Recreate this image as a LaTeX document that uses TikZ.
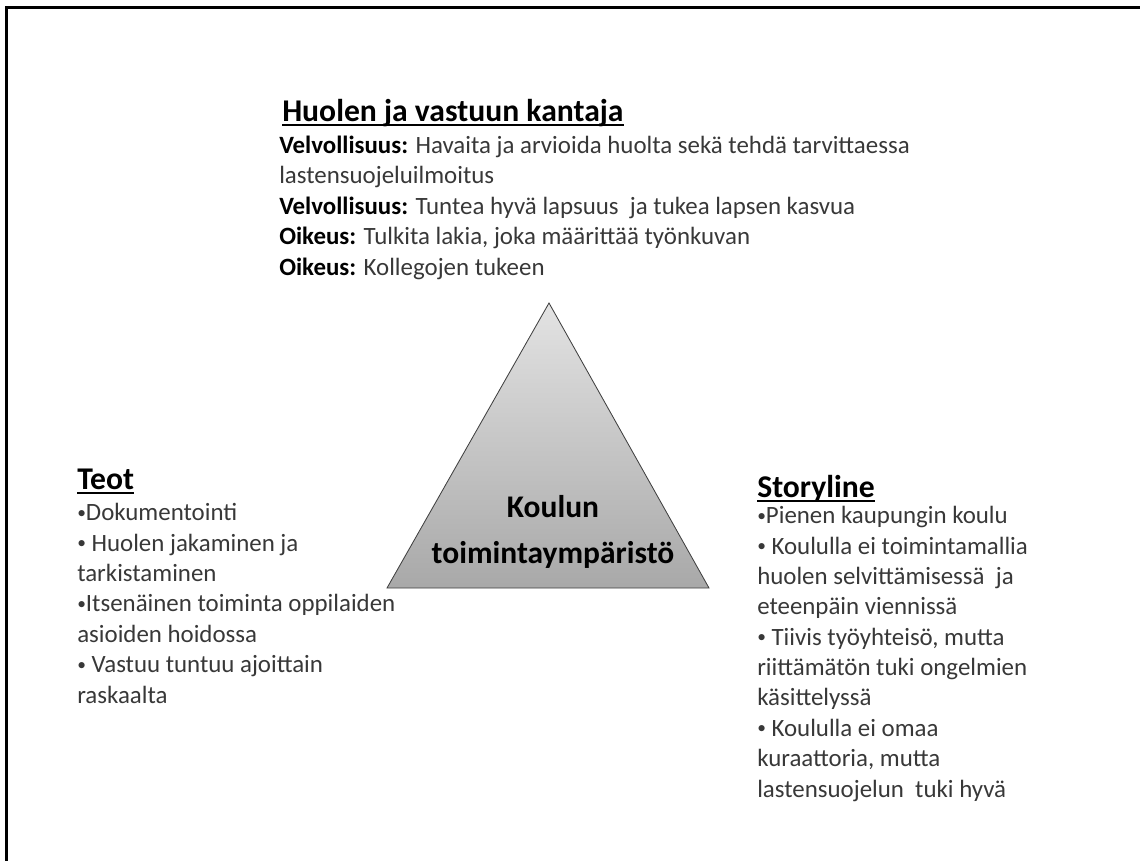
\documentclass[tikz,border=0pt]{standalone}
\usepackage{fontspec}
\setmainfont{Carlito}
\usepackage{xcolor}
\usetikzlibrary{positioning}

\newcommand{\kohta}[1]{{\color{black}\bfseries #1}}
\newcommand{\pallo}{\raisebox{.1em}{\scalebox{.7}{•}}}

\tikzset{
  otsikko/.style={anchor=base west, inner sep=0pt, font=\fontsize{22.5}{26}\selectfont\bfseries},
  leipa/.style={anchor=base west, inner sep=0pt, align=left, text=black!78,
    font=\fontsize{17.7}{21.6}\selectfont},
  keski/.style={inner sep=0pt, align=center, font=\fontsize{22.4}{32.7}\selectfont\bfseries},
  alleviivaus/.style={line width=1.3pt},
}

\begin{document}
\begin{tikzpicture}[x=0.025cm, y=-0.025cm]
  \useasboundingbox (0,0) rectangle (1140,861);

  % Kehys
  \draw[line width=2.2pt] (6.5,861) -- (6.5,7.5) -- (1140,7.5);

  % Kolmio
  \coordinate (karki) at (549,303);
  \coordinate (oikea) at (709,588);
  \coordinate (vasen) at (387,588);
  \shade[top color=gray!22, bottom color=gray!68, draw=black!75, line width=0.6pt]
    (karki) -- (oikea) -- (vasen) -- cycle;
  \node[keski, anchor=base] (ymparisto) at (553,563) {Koulun\\toimintaympäristö};

  % Ylhaalla
  \node[otsikko] (huoli) at (282,121) {Huolen ja vastuun kantaja};
  \draw[alleviivaus] ([yshift=-3pt]huoli.base west) -- ([yshift=-3pt]huoli.base east);
  \node[leipa] (huoliteksti) at (279,275) {\kohta{Velvollisuus:} Havaita ja arvioida huolta sekä tehdä tarvittaessa\\
    lastensuojeluilmoitus\\
    \kohta{Velvollisuus:} Tuntea hyvä lapsuus\ \ ja tukea lapsen kasvua\\
    \kohta{Oikeus:} Tulkita lakia, joka määrittää työnkuvan\\
    \kohta{Oikeus:} Kollegojen tukeen};

  % Vasen
  \node[otsikko] (teot) at (77,489) {Teot};
  \draw[alleviivaus] ([yshift=-3pt]teot.base west) -- ([yshift=-3pt]teot.base east);
  \node[leipa] (teotteksti) at (77,703) {\pallo Dokumentointi\\
    \pallo\ Huolen jakaminen ja\\
    tarkistaminen\\
    \pallo Itsenäinen toiminta oppilaiden\\
    asioiden hoidossa\\
    \pallo\ Vastuu tuntuu ajoittain\\
    raskaalta};

  % Oikea
  \node[otsikko] (story) at (757,497) {Storyline};
  \draw[alleviivaus] ([yshift=-3pt]story.base west) -- ([yshift=-3pt]story.base east);
  \node[leipa] (storyteksti) at (757,797) {\pallo Pienen kaupungin koulu\\
    \pallo\ Koululla ei toimintamallia\\
    huolen selvittämisessä\ \ ja\\
    eteenpäin viennissä\\
    \pallo\ Tiivis työyhteisö, mutta\\
    riittämätön tuki ongelmien\\
    käsittelyssä\\
    \pallo\ Koululla ei omaa\\
    kuraattoria, mutta\\
    lastensuojelun\ \ tuki hyvä};
\end{tikzpicture}
\end{document}
